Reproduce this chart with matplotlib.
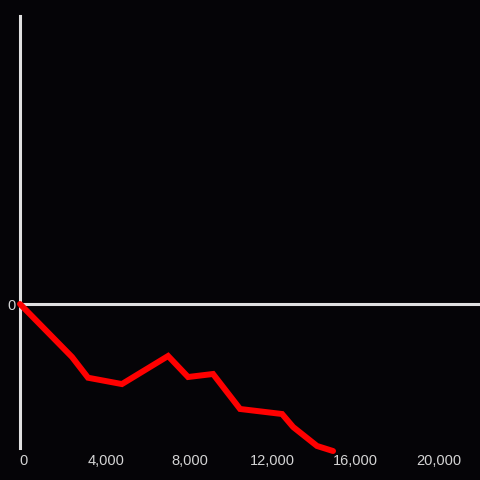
import matplotlib
matplotlib.use("Agg")
import matplotlib.pyplot as plt
import matplotlib.transforms as mtransforms

plt.rcParams['font.family'] = ['Liberation Sans', 'DejaVu Sans']

# series
x_vals = [0, 2500, 3270, 4900, 7120, 8080, 9280, 10580, 12600, 13130, 14280, 15050]
y_vals = [0, -368, -512, -556, -361, -507, -486, -729, -764, -854, -986, -1021]
x_ticks = [0, 4000, 8000, 12000, 16000, 20000]
x_tick_labels = ['0', '4,000', '8,000', '12,000', '16,000', '20,000']
y_ticks = [0]
y_tick_labels = ['0']

bg = '#050407'
axis_col = '#e0e0e0'
text_col = '#d4d4d4'

fig = plt.figure(figsize=(4.8, 4.8), dpi=100, facecolor=bg)
ax = fig.add_axes([20/480, 32/480, 460/480, 432/480], facecolor=bg)

ax.plot(x_vals, y_vals, color='#ff0000', lw=4.3, solid_joinstyle='miter',
        solid_capstyle='round', clip_on=False, zorder=3)
ax.axhline(0, color=axis_col, lw=2.2, zorder=2)

ax.set_xlim(0, 22115)
ax.set_ylim(-1000, 2000)

for s in ['top', 'right', 'bottom']:
    ax.spines[s].set_visible(False)
ax.spines['left'].set_color(axis_col)
ax.spines['left'].set_linewidth(2.2)

ax.set_xticks(x_ticks)
ax.set_xticklabels(x_tick_labels)
ax.set_yticks(y_ticks)
ax.set_yticklabels(y_tick_labels)
ax.tick_params(axis='both', length=0, colors=text_col, labelsize=10.5)
ax.tick_params(axis='x', pad=4)
ax.tick_params(axis='y', pad=3)

# labels sit a few pixels right of their ticks in the reference
shift = mtransforms.ScaledTranslation(3/100, 0, fig.dpi_scale_trans)
for lbl in ax.get_xticklabels():
    lbl.set_transform(lbl.get_transform() + shift)

fig.savefig('out.png', dpi=100, facecolor=bg)
